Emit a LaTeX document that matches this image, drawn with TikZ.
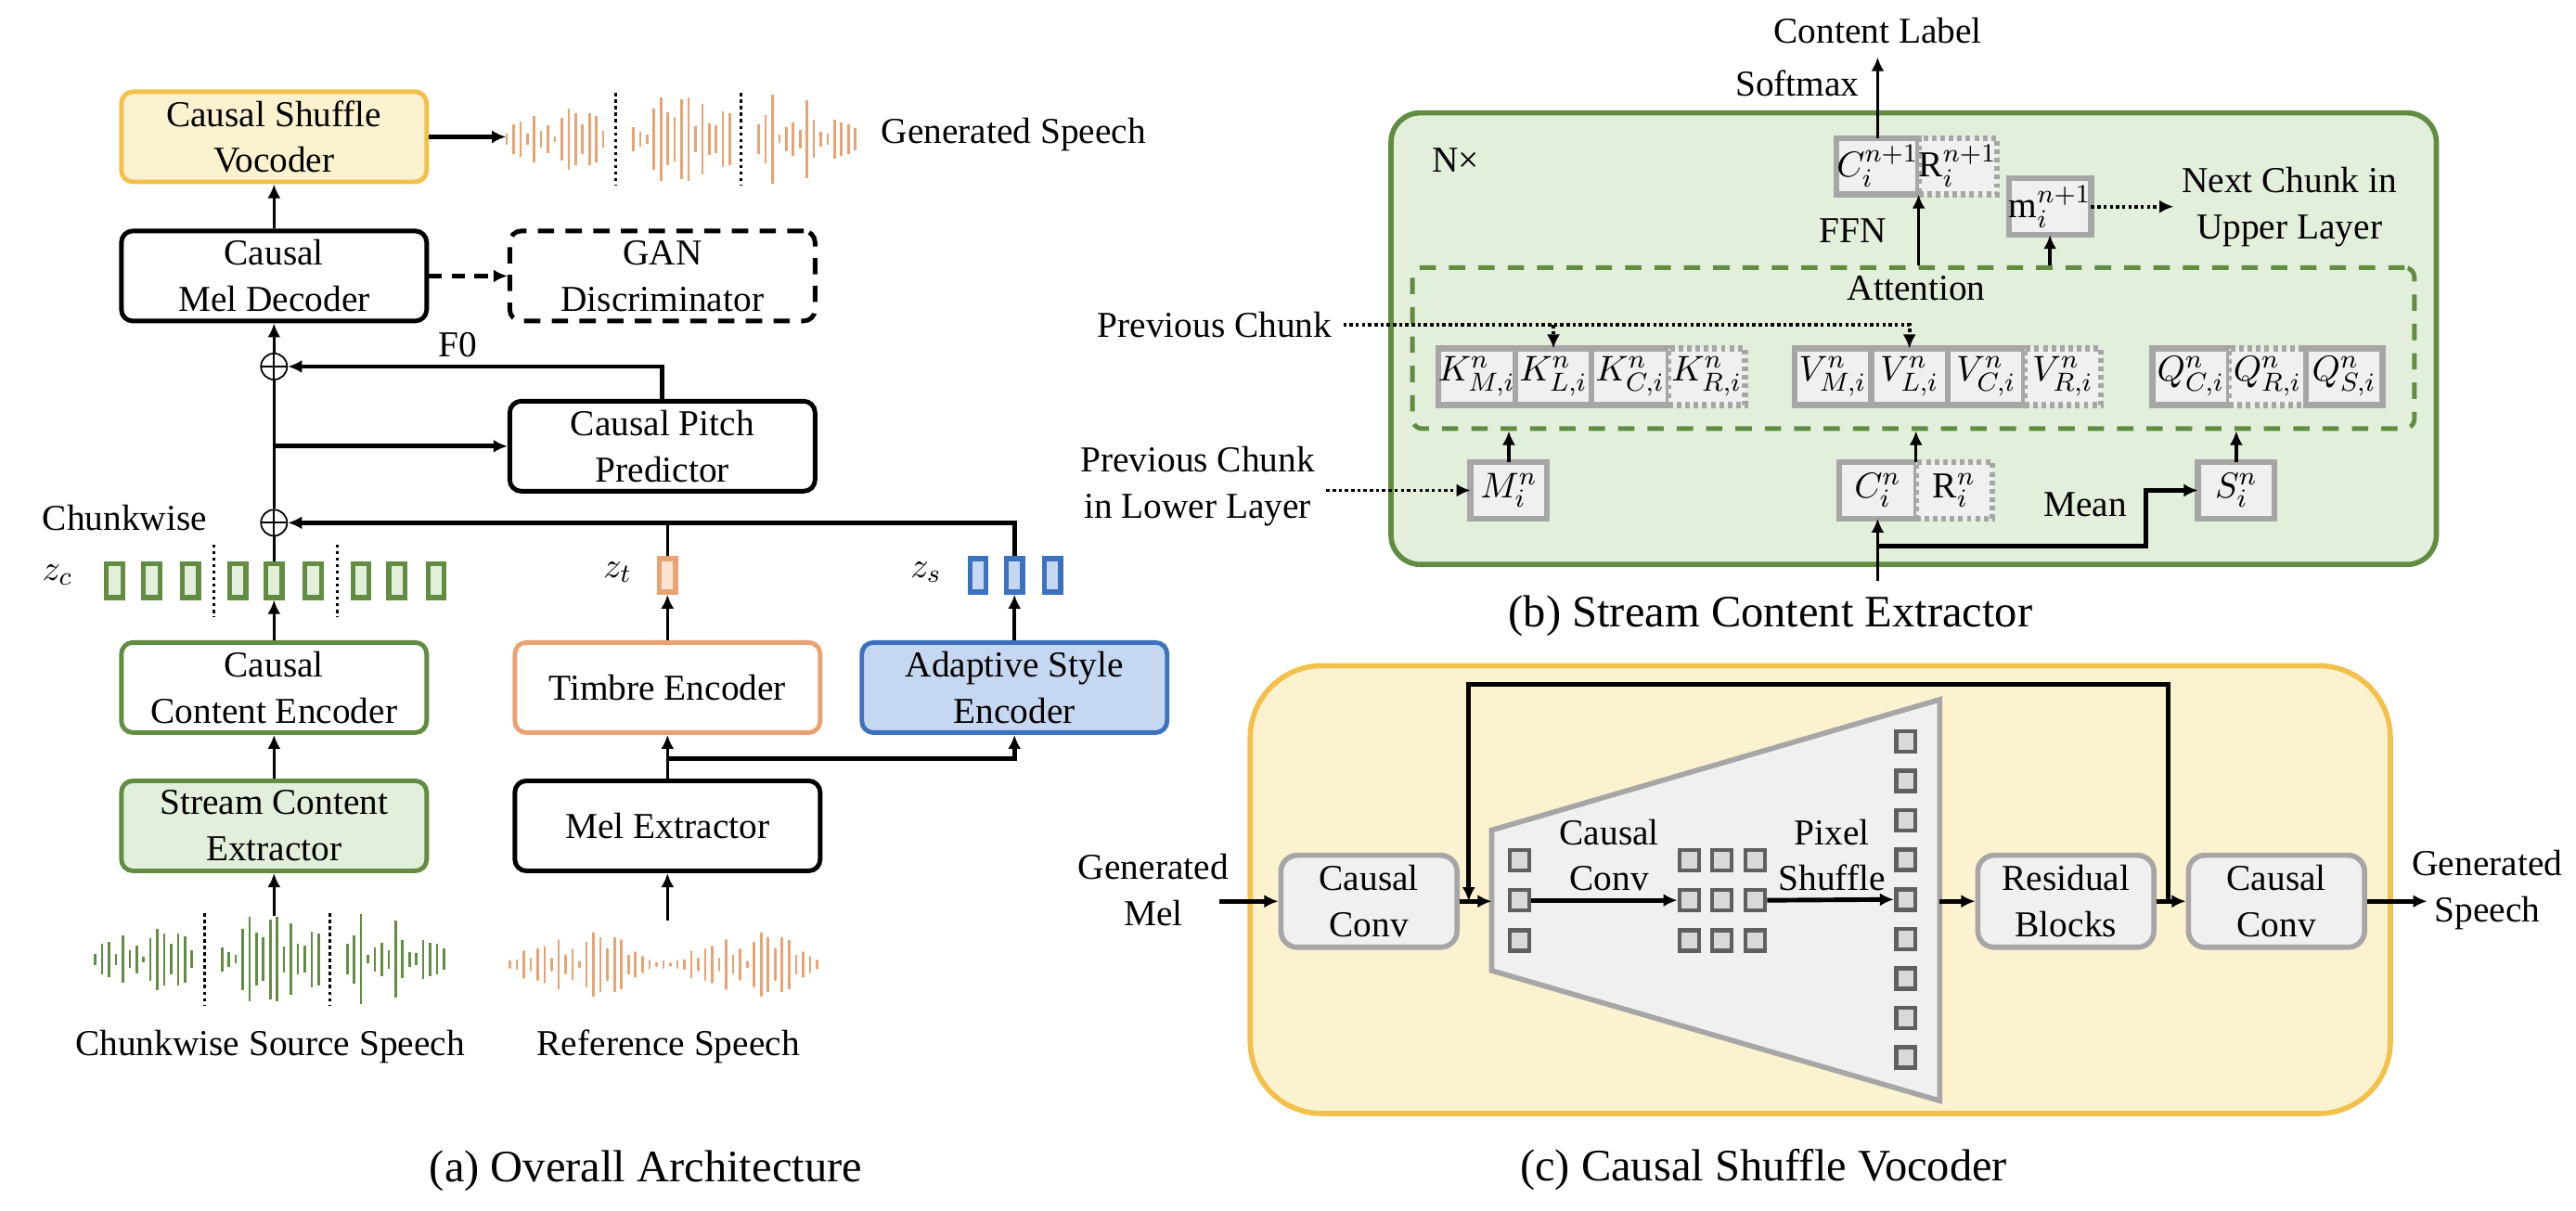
\documentclass[tikz,border=0pt]{standalone}
\usepackage{fontspec}
\setmainfont{Liberation Serif}
\usetikzlibrary{arrows.meta,positioning}

\definecolor{cgreen}{HTML}{628C42}
\definecolor{cgreenfill}{HTML}{E2EFDA}
\definecolor{corange}{HTML}{E9A271}
\definecolor{corangefill}{HTML}{FAE3D4}
\definecolor{cblue}{HTML}{3C72BD}
\definecolor{cbluefill}{HTML}{C6D7F2}
\definecolor{cyellow}{HTML}{F3C04B}
\definecolor{cyellowfill}{HTML}{FDF2CF}
\definecolor{cellgray}{HTML}{A6A6A6}
\definecolor{cellfill}{HTML}{F0F0F0}
\definecolor{sqgray}{HTML}{5F5F5F}
\definecolor{sqfill}{HTML}{D9D9D9}

\tikzset{
  every node/.style={font=\fontsize{11.2}{14.2}\selectfont},
  capt/.style={font=\fontsize{13.8}{16}\selectfont},
  arr/.style={line width=1pt,-{Latex[length=4.3pt,width=4pt]}},
  thickarr/.style={arr,line width=1.4pt},
  dotarr/.style={arr,line width=1.1pt,dash pattern=on 1pt off 0.9pt},
  abox/.style={draw,line width=1.4pt,rounded corners=3.5pt,align=center,
    minimum width=93.6pt,minimum height=27.6pt,inner sep=1pt},
  dashbox/.style={dash pattern=on 5pt off 3.5pt},
  greenline/.style={draw=cgreen},
  greenbox/.style={draw=cgreen,fill=cgreenfill},
  orangeline/.style={draw=corange},
  blueline/.style={draw=cblue,fill=cbluefill},
  yellowbox/.style={draw=cyellow,fill=cyellowfill},
  zblk/.style={draw,line width=1.5pt,minimum width=5pt,minimum height=10.3pt,inner sep=0pt},
  addop/.style={circle,draw,line width=0.5pt,minimum size=8pt,inner sep=0pt,
    path picture={\draw[line width=0.5pt]
      (path picture bounding box.north) -- (path picture bounding box.south)
      (path picture bounding box.west) -- (path picture bounding box.east);}},
  wavebar/.style={line width=0.75pt},
  sepline/.style={line width=0.9pt,dash pattern=on 1pt off 1pt},
  cell/.style={draw=cellgray,fill=cellfill,line width=1.8pt,minimum width=23.5pt,
    minimum height=17.3pt,inner sep=0pt,outer sep=0pt},
  dcell/.style={cell,dash pattern=on 1.4pt off 1.2pt},
  attbox/.style={draw=cgreen,line width=1.4pt,dash pattern=on 5pt off 4pt,
    rounded corners=3pt,minimum width=307.2pt,minimum height=49.4pt,inner sep=0pt},
  gbox/.style={draw=cellgray,fill=cellfill,line width=1.6pt,rounded corners=5pt,
    align=center,minimum width=54pt,minimum height=28.2pt,inner sep=1pt},
  sqbox/.style={draw=sqgray,fill=sqfill,line width=1.3pt,minimum width=5.95pt,
    minimum height=6.25pt,inner sep=0pt},
  trap/.style={draw=cellgray,fill=cellfill,line width=1.6pt}
}

% speech wave cut into three chunks: first bar x, centre y, colour
\newcommand{\chunkwave}[3]{%
  \foreach \off/\hts in {0/{6.6,18.5,21.3,6.6,28.6,10.5,16.9,3.2,26,37.3,31.6,18.5,31.6,28.1,10.5},
      77.1/{14.5,8.9,5.3,37.1,51.2,32.2,26.7,48.8,51.2,15.6,43.3,18.8,16.6,33.7,31.8},
      153.4/{18.5,29.6,54.6,5.1,14.7,20.5,11.1,47.1,23.2,8.9,7.2,23.9,20.2,18.5,13.2}}
    \foreach \h [count=\i from 0] in \hts
      \draw[wavebar,#3] ({#1+\off+4.2*\i},{#2-\h/2}) -- ++(0,\h);
  \draw[sepline] ({#1+66.6},{#2-28}) -- ++(0,56);
  \draw[sepline] ({#1+142.7},{#2-28}) -- ++(0,56);
}
% whole reference wave: first bar x, centre y, colour
\newcommand{\refspeech}[3]{%
  \foreach \h [count=\i from 0] in {4.1,5.3,16,7.2,18.8,21.7,7.2,29.6,10.9,18.3,3.2,26.7,38.2,32.4,
      18.8,32.4,29.2,10.9,14.7,9.4,4.7,1.5,4.1,1.3,4.1,5.3,16,7.2,18.8,21.7,7.2,29.6,10.9,18.3,
      3.2,26.7,38.2,32.4,18.8,32.4,29.2,10.9,14.7,9.4,4.7}
    \draw[wavebar,#3,line cap=round] ({#1+4.25*\i},{#2-\h/2}) -- ++(0,\h);
}

\begin{document}
\begin{tikzpicture}[x=0.5037pt,y=-0.5037pt]
  \useasboundingbox (0,0) rectangle (1568,737);

  %% (a) overall architecture
  \node[abox,yellowbox] (voc) at (166.8,83.3) {Causal Shuffle\\Vocoder};
  \node[abox] (dec) at (166.8,168) {Causal\\Mel Decoder};
  \node[abox,dashbox] (gan) at (403.2,168) {GAN\\Discriminator};
  \node[abox] (pitch) at (403.2,271.6) {Causal Pitch\\Predictor};
  \node[abox,greenline] (cenc) at (166.8,418.5) {Causal\\Content Encoder};
  \node[abox,orangeline] (tenc) at (406.3,418.5) {Timbre Encoder};
  \node[abox,blueline] (senc) at (617.5,418.5) {Adaptive Style\\Encoder};
  \node[abox,greenbox] (sce) at (166.8,502.7) {Stream Content\\Extractor};
  \node[abox] (mel) at (406.3,502.7) {Mel Extractor};

  \node[addop] (add1) at (166.8,223.1) {};
  \node[addop] (add2) at (166.8,318.2) {};

  %% latent blocks
  \foreach \x [count=\i] in {69.8,92.3,115.9,144.7,166.8,190.6,219.7,241.7,265.5}
    \node[zblk,draw=cgreen,fill=cgreenfill] (zc\i) at (\x,353.5) {};
  \draw[sepline] (130.2,331.4) -- (130.2,375.6);
  \draw[sepline] (205.2,331.4) -- (205.2,375.6);
  \node[zblk,draw=corange,fill=corangefill] (zt) at (406.3,350.2) {};
  \foreach \x [count=\i] in {595.3,617.5,640.7}
    \node[zblk,draw=cblue,fill=cbluefill] (zs\i) at (\x,350.2) {};
  \node (zclab) at (35,350) {$z_c$};
  \node (ztlab) at (376,348.3) {$z_t$};
  \node (zslab) at (563.7,348.3) {$z_s$};
  \node (chunklab) at (76,315.4) {Chunkwise};

  \draw[thickarr] (voc.east) -- (308,83.3) coordinate (wavein);
  \draw[arr] (dec.north) -- (voc.south);
  \draw[arr,dash pattern=on 4pt off 3pt,line width=1.4pt] (dec.east) -- (gan.west);
  \draw[arr] (add1.north) -- (dec.south);
  \draw[line width=1pt] (add2.north) -- (add1.south);
  \draw[line width=1pt] (zc5.north) -- (add2.south);
  \draw[thickarr] (pitch.north) |- (add1.east);
  \node (f0lab) at (278.6,209.9) {F0};
  \coordinate (ptap) at (166.8,271.6);
  \draw[thickarr] (ptap) -- (pitch.west);
  \draw[thickarr] (zs2.north) |- (add2.east);
  \draw[line width=1pt] (zt.north) -- (zt.north |- add2.east);

  \draw[arr] (cenc.north) -- (zc5.south);
  \draw[arr] (tenc.north) -- (zt.south);
  \draw[arr] (senc.north) -- (zs2.south);
  \draw[arr] (sce.north) -- (cenc.south);
  \draw[arr] (mel.north) -- (tenc.south);
  \coordinate (melsplit) at (406.3,461.9);
  \draw[thickarr] (melsplit) -| (senc.south);

  %% waves
  \chunkwave{308.4}{84.7}{corange}
  \chunkwave{58}{583.9}{cgreen}
  \refspeech{310.3}{587.1}{corange}
  \coordinate (srctop) at (166.8,557.3);
  \coordinate (reftop) at (406.3,560.1);
  \draw[arr] (srctop) -- (sce.south);
  \draw[arr] (reftop) -- (mel.south);

  \node (genlab) at (617,81.9) {Generated Speech};
  \node (srclab) at (164.4,637.3) {Chunkwise Source Speech};
  \node (reflab) at (406.8,637.3) {Reference Speech};
  \node[capt] (capa) at (393.1,713) {(a) Overall Architecture};

  %% (b) stream content extractor
  \draw[cgreen,fill=cgreenfill,line width=1.6pt,rounded corners=9pt] (846.7,68.7) rectangle (1483,343.6);
  \node[attbox] (att) at (1164.7,211.9) {};
  \node (attlab) at (1166.5,175.5) {Attention};
  \node (nlab) at (886,97.5) {N×};

  \node[cell] (cn1) at (1142.9,101.2) {$C_i^{n+1}$};
  \node[dcell,right=0pt of cn1] (rn1) {$\mathrm{R}_i^{n+1}$};
  \node[cell] (mn1) at (1247.8,125.8) {$\mathrm{m}_i^{n+1}$};

  \node[cell] (km) at (898.8,229.3) {$K_{M,i}^{n}$};
  \node[cell,right=0pt of km] (kl) {$K_{L,i}^{n}$};
  \node[cell,right=0pt of kl] (kc) {$K_{C,i}^{n}$};
  \node[dcell,right=0pt of kc] (kr) {$K_{R,i}^{n}$};
  \node[cell] (vm) at (1115.6,229.3) {$V_{M,i}^{n}$};
  \node[cell,right=0pt of vm] (vl) {$V_{L,i}^{n}$};
  \node[cell,right=0pt of vl] (vc) {$V_{C,i}^{n}$};
  \node[dcell,right=0pt of vc] (vr) {$V_{R,i}^{n}$};
  \node[cell] (qc) at (1333.5,229.3) {$Q_{C,i}^{n}$};
  \node[dcell,right=0pt of qc] (qr) {$Q_{R,i}^{n}$};
  \node[cell,right=0pt of qr] (qs) {$Q_{S,i}^{n}$};

  \node[cell] (mi) at (918.4,298.5) {$M_i^{n}$};
  \node[cell] (ci) at (1142.9,298.5) {$C_i^{n}$};
  \node[dcell,right=0pt of ci] (ri) {$\mathrm{R}_i^{n}$};
  \node[cell] (si) at (1361.2,298.5) {$S_i^{n}$};

  \coordinate (softtop) at (1142.9,34.8);
  \draw[arr] (cn1.north) -- (softtop);
  \node (contlab) at (1143,18.8) {Content Label};
  \node (softlab) at (1094,50.8) {Softmax};
  \node (ffnlab) at (1128,140.3) {FFN};
  \draw[arr] (cn1.south east |- att.north) -- (cn1.south east);
  \draw[arr] (mn1.south |- att.north) -- (mn1.south);
  \coordinate (nextin) at (1323,125.8);
  \draw[dotarr] (mn1.east) -- (nextin);
  \node[align=center] (nextlab) at (1393.5,126.2) {Next Chunk in\\Upper Layer};

  \node (prevlab) at (739.3,197.7) {Previous Chunk};
  \draw[dotarr] (prevlab.east) -| (vl.north);
  \draw[dotarr] (kl.north |- prevlab.east) -- (kl.north);
  \node[align=center] (lowlab) at (729,296) {Previous Chunk\\in Lower Layer};
  \draw[dotarr] (mi.west -| lowlab.east) -- (mi.west);

  \draw[arr] (mi.north) -- (mi.north |- att.south);
  \draw[arr] (ci.north east) -- (ci.north east |- att.south);
  \draw[arr] (si.north) -- (si.north |- att.south);
  \coordinate (cin) at (1142.9,353.6);
  \coordinate (meanfork) at (1142.9,332.3);
  \coordinate (meanbend) at (1306.4,298.5);
  \draw[arr] (cin) -- (ci.south);
  \draw[thickarr] (meanfork) -| (meanbend) -- (si.west);
  \node (meanlab) at (1269.2,306.9) {Mean};
  \node[capt] (capb) at (1077.7,374.7) {(b) Stream Content Extractor};

  %% (c) causal shuffle vocoder
  \draw[draw=cyellow,fill=cyellowfill,line width=1.6pt,rounded corners=22pt] (761,405.2) rectangle (1455,677.8);
  \draw[trap] (908,505.3) -- (1180.7,425.8) -- (1180.7,670) -- (908,590.8) -- cycle;
  \node[gbox] (cc1) at (833.3,548.6) {Causal\\Conv};
  \node[gbox] (res) at (1257.5,548.6) {Residual\\Blocks};
  \node[gbox] (cc2) at (1385.7,548.6) {Causal\\Conv};

  \foreach \k in {1,2,3}
    \node[sqbox] (in\k) at (924.9,{523.5+24.5*(\k-1)}) {};
  \foreach \r in {1,2,3}
    \foreach \c/\x in {1/1028.2,2/1048.1,3/1068.4}
      \node[sqbox] (gr\r\c) at (\x,{523.5+24.5*(\r-1)}) {};
  \foreach \k in {1,...,9}
    \node[sqbox] (col\k) at (1160,{451.3+24.05*(\k-1)}) {};
  \node[align=center] (convlab) at (979.6,520.5) {Causal\\Conv};
  \node[align=center] (pslab) at (1115,520.5) {Pixel\\Shuffle};

  \node[align=center] (gmlab) at (702,541.5) {Generated\\Mel};
  \node[align=center] (gslab) at (1514,541.7) {Generated\\Speech};
  \coordinate (melin) at (742,548.6);
  \coordinate (trapin) at (908,548.6);
  \coordinate (trapout) at (1180.7,548.6);
  \coordinate (skipin) at (894,548.6);
  \coordinate (skipout) at (1319.5,548.6);
  \coordinate (speechout) at (1477.4,548.6);
  \draw[thickarr] (melin) -- (cc1.west);
  \draw[thickarr] (cc1.east) -- (trapin);
  \draw[thickarr] (in2.east) -- (gr21.west);
  \draw[thickarr] (gr23.east) -- (col5.west);
  \draw[thickarr] (trapout) -- (res.west);
  \draw[thickarr] (res.east) -- (cc2.west);
  \draw[thickarr] (skipout) -- ++(0,-132.1) -| (skipin);
  \draw[thickarr] (cc2.east) -- (speechout);
  \node[capt] (capc) at (1073.5,712) {(c) Causal Shuffle Vocoder};
\end{tikzpicture}
\end{document}
